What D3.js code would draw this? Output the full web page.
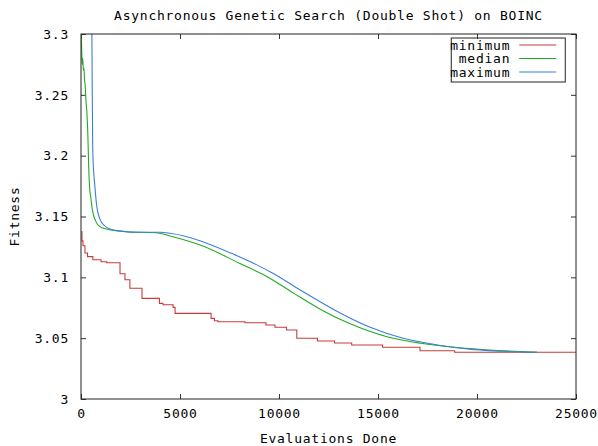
<!DOCTYPE html>
<html>
<head>
<meta charset="utf-8">
<script src="https://cdn.jsdelivr.net/npm/d3@7"></script>
<style>
  body { margin: 0; background: #fff; }
  text { font-family: "DejaVu Sans Mono", monospace; font-size: 13px; letter-spacing: 0.75px; fill: #000; }
</style>
</head>
<body>
<div id="chart"></div>
<script>
// values: [evaluations, fitness]
var minimumData = [[0,3.1375],[50,3.13],[100,3.126],[200,3.12],[330,3.117],[600,3.1145],[1010,3.1128],[1300,3.112],
  [1970,3.103],[2220,3.098],[2470,3.091],[3080,3.0827],[3960,3.0786],[4140,3.0775],[4650,3.0753],[4750,3.0704],
  [6570,3.0663],[6740,3.0643],[6910,3.0635],[8280,3.0627],[9340,3.0608],[9800,3.059],[10380,3.0567],[10900,3.0499],
  [11940,3.0477],[12800,3.046],[13670,3.0444],[15230,3.0425],[17120,3.0397],[18870,3.0384],[25000,3.038]];
var medianData = [[0,3.30],[30,3.29],[60,3.275],[90,3.28],[120,3.27],[150,3.272],[180,3.262],[210,3.258],[250,3.245],
  [300,3.235],[350,3.215],[390,3.19],[430,3.175],[500,3.165],[560,3.157],[650,3.15],[750,3.146],[860,3.143],
  [1100,3.1405],[1500,3.139],[2300,3.1375],[3800,3.1367],[4500,3.134],[6250,3.1252],[8000,3.1115],[9400,3.1005],
  [10760,3.0868],[12150,3.0732],[13540,3.0622],[15450,3.0512],[17180,3.0458],[18870,3.0425],[20610,3.0403],[23030,3.0384]];
var maximumData = [[540,3.40],[550,3.30],[570,3.25],[590,3.21],[600,3.20],[700,3.175],[800,3.158],[950,3.148],
  [1150,3.143],[1500,3.1395],[2000,3.138],[3000,3.137],[4000,3.137],[4490,3.1362],[7600,3.1197],[9690,3.1033],
  [11070,3.0896],[12800,3.0732],[14540,3.0594],[16270,3.0499],[18000,3.0444],[19740,3.0408],[23030,3.0384]];
var xTicks = [0, 5000, 10000, 15000, 20000, 25000];
var yTicks = [3, 3.05, 3.1, 3.15, 3.2, 3.25, 3.3];
var seriesNames = ['minimum', 'median', 'maximum'];
var seriesColors = ['#c83c3c', '#22aa22', '#3b7fd6'];

var width = 598, height = 446;
var margin = { top: 34, right: 22, bottom: 47, left: 81 };
var plotW = width - margin.left - margin.right,
    plotH = height - margin.top - margin.bottom;

var svg = d3.select('#chart').append('svg')
    .attr('width', width)
    .attr('height', height);

var x = d3.scaleLinear().domain([0, 25000]).range([0, plotW]);
var y = d3.scaleLinear().domain([3, 3.3]).range([plotH, 0]);

var g = svg.append('g').attr('transform', 'translate(' + margin.left + ',' + margin.top + ')');

g.append('clipPath').attr('id', 'plotclip')
  .append('rect').attr('width', plotW).attr('height', plotH);

var yFmt = function(d){ return String(+d.toFixed(2)); };

// ticks point inwards on all four sides, like gnuplot
g.append('g').attr('class', 'axis')
  .attr('transform', 'translate(0,' + plotH + ')')
  .call(d3.axisBottom(x).tickValues(xTicks).tickSize(-5).tickSizeOuter(0).tickPadding(10).tickFormat(d3.format('d')));
g.append('g').attr('class', 'axis')
  .call(d3.axisTop(x).tickValues(xTicks).tickSize(-5).tickSizeOuter(0).tickFormat(''));
g.append('g').attr('class', 'axis')
  .call(d3.axisLeft(y).tickValues(yTicks).tickSize(-5).tickSizeOuter(0).tickPadding(12).tickFormat(yFmt));
g.append('g').attr('class', 'axis')
  .attr('transform', 'translate(' + plotW + ',0)')
  .call(d3.axisRight(y).tickValues(yTicks).tickSize(-5).tickSizeOuter(0).tickFormat(''));

g.selectAll('.axis .domain').remove();
g.selectAll('.axis text').attr('font-family', null).attr('font-size', null);
g.selectAll('.axis line').attr('stroke', '#333');

var lines = g.append('g').attr('clip-path', 'url(#plotclip)');
var lineSmooth = d3.line().curve(d3.curveMonotoneX).x(function(d){ return x(d[0]); }).y(function(d){ return y(d[1]); });
var lineStep = d3.line().curve(d3.curveStepAfter).x(function(d){ return x(d[0]); }).y(function(d){ return y(d[1]); });

lines.append('path').datum(minimumData).attr('d', lineStep)
  .attr('fill', 'none').attr('stroke', seriesColors[0]).attr('stroke-width', 1.1);
lines.append('path').datum(medianData).attr('d', lineSmooth)
  .attr('fill', 'none').attr('stroke', seriesColors[1]).attr('stroke-width', 1.1);
lines.append('path').datum(maximumData).attr('d', lineSmooth)
  .attr('fill', 'none').attr('stroke', seriesColors[2]).attr('stroke-width', 1.1);

// frame
g.append('rect').attr('width', plotW).attr('height', plotH)
  .attr('fill', 'none').attr('stroke', '#222').attr('stroke-width', 1);

// legend
var legend = g.append('g').attr('transform', 'translate(' + (x(18700)) + ',' + 4 + ')');
legend.append('rect').attr('width', 114).attr('height', 44)
  .attr('fill', 'none').attr('stroke', '#222');
seriesNames.forEach(function(name, i){
  var row = legend.append('g').attr('transform', 'translate(0,' + (7 + i * 13.5) + ')');
  row.append('text').attr('x', 59).attr('dy', '0.35em').attr('text-anchor', 'end').text(name);
  row.append('line').attr('x1', 68).attr('x2', 105)
    .attr('stroke', seriesColors[i]).attr('stroke-width', 1.1);
});

// titles
svg.append('text').attr('x', margin.left + plotW / 2).attr('y', 20).attr('text-anchor', 'middle')
  .text('Asynchronous Genetic Search (Double Shot) on BOINC');
svg.append('text').attr('x', margin.left + plotW / 2).attr('y', 443).attr('text-anchor', 'middle')
  .text('Evaluations Done');
svg.append('text').attr('transform', 'translate(19,' + (margin.top + plotH / 2) + ') rotate(-90)')
  .attr('text-anchor', 'middle').text('Fitness');
</script>
</body>
</html>
